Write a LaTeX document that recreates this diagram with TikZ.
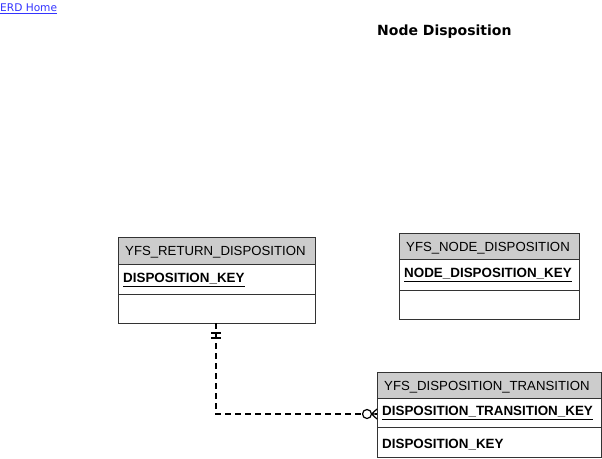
\documentclass[tikz,border=0pt]{standalone}
\usepackage{fontspec}
\setmainfont{Liberation Sans}
\newfontfamily\titlefont{DejaVu Sans}
\definecolor{hdr}{HTML}{CCCCCC}
\definecolor{bord}{HTML}{333333}
\definecolor{linkblue}{HTML}{3333FF}
\begin{document}
\begin{tikzpicture}[x=1pt,y=-1pt,
  cell/.style={draw=bord, line width=0.8pt, anchor=north west, inner sep=0pt, outer sep=0pt},
  hcell/.style={cell, fill=hdr},
  htext/.style={anchor=west, inner sep=0pt, font=\fontsize{13.2}{15}\selectfont},
  ktext/.style={anchor=west, inner sep=0pt, font=\fontsize{13.4}{15}\selectfont\bfseries},
  rel/.style={line width=1.3pt, dash pattern=on 6pt off 4pt},
  relmark/.style={line width=1.2pt}]
\useasboundingbox (0,0) rectangle (602,458);
\node[anchor=west, inner sep=0pt, text=linkblue, font=\titlefont\fontsize{10.6}{12}\selectfont] (home) at (0,9) {\underline{ERD Home}};
\node[anchor=west, inner sep=0pt, font=\titlefont\bfseries\fontsize{14}{16}\selectfont] (title) at (377,31.5) {Node Disposition};
% YFS_RETURN_DISPOSITION
\node[hcell, minimum width=197pt, minimum height=27pt] (rh) at (118,237) {};
\node[cell, minimum width=197pt, minimum height=30pt] (rk) at (118,264) {};
\node[cell, minimum width=197pt, minimum height=29pt] (re) at (118,294) {};
\node[htext] (rht) at (125,252.5) {YFS\_RETURN\_DISPOSITION};
\node[ktext] (rkt) at (123,280) {\underline{DISPOSITION\_KEY}};
% YFS_NODE_DISPOSITION
\node[hcell, minimum width=180pt, minimum height=26pt] (nh) at (399,233) {};
\node[cell, minimum width=180pt, minimum height=31pt] (nk) at (399,259) {};
\node[cell, minimum width=180pt, minimum height=29pt] (ne) at (399,290) {};
\node[htext] (nht) at (406,248) {YFS\_NODE\_DISPOSITION};
\node[ktext] (nkt) at (404,275) {\underline{NODE\_DISPOSITION\_KEY}};
% YFS_DISPOSITION_TRANSITION
\node[hcell, minimum width=224pt, minimum height=26pt] (th) at (377,372) {};
\node[cell, minimum width=224pt, minimum height=29pt] (tk) at (377,398) {};
\node[cell, minimum width=224pt, minimum height=30pt] (te) at (377,427) {};
\node[htext] (tht) at (384,387) {YFS\_DISPOSITION\_TRANSITION};
\node[ktext] (tkt) at (382,413) {\underline{DISPOSITION\_TRANSITION\_KEY}};
\node[ktext] (tet) at (382,445) {DISPOSITION\_KEY};
% relationship
\coordinate (rs) at (216,323);
\coordinate (te0) at (377,414);
\draw[rel] (rs) |- (te0);
\draw[relmark] (211,333) -- (221,333) (211,338) -- (221,338);
\draw[relmark, fill=white] (367,414) circle (4.5pt);
\draw[relmark] (371.5,414) -- (377,409) (371.5,414) -- (377,414) (371.5,414) -- (377,419);
\end{tikzpicture}
\end{document}
